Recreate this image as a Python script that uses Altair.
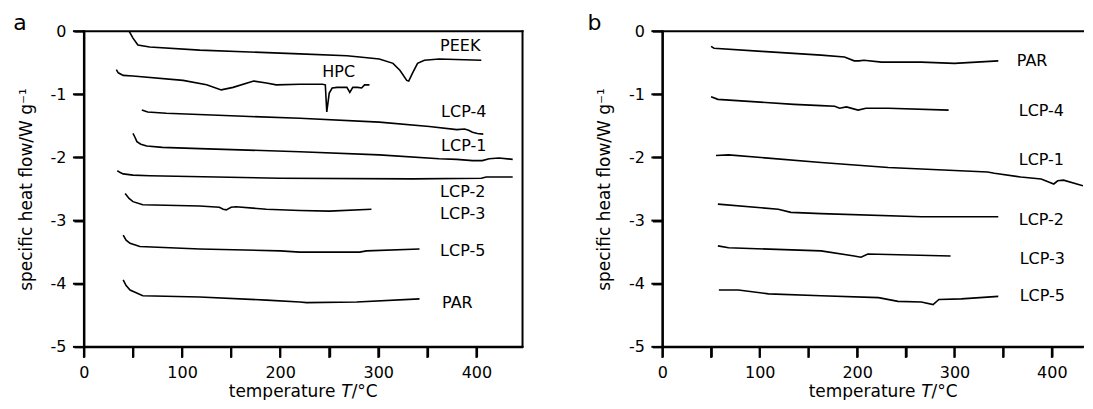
import altair as alt
import pandas as pd

# ---------------- panel a ----------------
a_peek_t = [46, 50, 55, 67, 118, 169, 220, 268, 281, 301, 315, 322, 329, 331, 335, 340, 347, 362, 405]
a_peek_q = [0.0, -0.11, -0.22, -0.25, -0.30, -0.33, -0.36, -0.39, -0.41, -0.44, -0.51, -0.62, -0.78, -0.79, -0.66, -0.51, -0.46, -0.44, -0.46]

a_hpc_t = [33, 35, 40, 50, 101, 125, 140, 152, 173, 186, 196, 220, 243, 246, 247.5, 250, 253, 258, 268, 271, 274, 279, 283, 286, 291]
a_hpc_q = [-0.61, -0.66, -0.70, -0.71, -0.78, -0.85, -0.93, -0.89, -0.79, -0.82, -0.85, -0.84, -0.84, -0.85, -1.28, -0.98, -0.90, -0.89, -0.89, -0.97, -0.89, -0.89, -0.90, -0.85, -0.85]

a_lcp4_t = [59, 65, 84, 150, 220, 301, 352, 380, 388, 392, 396, 401, 407]
a_lcp4_q = [-1.25, -1.28, -1.30, -1.34, -1.38, -1.44, -1.51, -1.56, -1.55, -1.57, -1.60, -1.62, -1.63]

a_lcp1_t = [50, 52, 54, 58, 64, 80, 118, 220, 301, 362, 380, 396, 406, 413, 423, 437]
a_lcp1_q = [-1.62, -1.68, -1.75, -1.79, -1.82, -1.84, -1.86, -1.91, -1.96, -2.02, -2.03, -2.05, -2.05, -2.02, -2.01, -2.03]

a_lcp2_t = [34, 37, 40, 50, 67, 200, 335, 405, 410, 437]
a_lcp2_q = [-2.21, -2.24, -2.26, -2.28, -2.29, -2.33, -2.34, -2.33, -2.31, -2.31]

a_lcp3_t = [42, 46, 50, 60, 118, 138, 142, 145, 150, 155, 186, 220, 250, 293]
a_lcp3_q = [-2.57, -2.65, -2.70, -2.75, -2.77, -2.79, -2.82, -2.83, -2.79, -2.78, -2.82, -2.84, -2.85, -2.82]

a_lcp5_t = [40, 43, 47, 57, 118, 200, 220, 281, 288, 342]
a_lcp5_q = [-3.23, -3.31, -3.36, -3.41, -3.45, -3.48, -3.50, -3.50, -3.48, -3.45]

a_par_t = [40, 43, 47, 60, 118, 186, 220, 227, 278, 342]
a_par_q = [-3.94, -4.03, -4.10, -4.19, -4.21, -4.26, -4.29, -4.30, -4.29, -4.24]

a_label_names = ["PEEK", "HPC", "LCP-4", "LCP-1", "LCP-2", "LCP-3", "LCP-5", "PAR"]
a_label_t = [363, 243, 364, 364, 363, 363, 363, 365]
a_label_q = [-0.24, -0.65, -1.28, -1.82, -2.55, -2.90, -3.48, -4.30]

# ---------------- panel b ----------------
b_par_t = [50, 53, 102, 163, 187, 197, 202, 207, 225, 266, 300, 345]
b_par_q = [-0.24, -0.27, -0.32, -0.38, -0.41, -0.47, -0.47, -0.46, -0.49, -0.49, -0.51, -0.47]

b_lcp4_t = [50, 57, 135, 163, 177, 182, 189, 201, 209, 232, 294]
b_lcp4_q = [-1.04, -1.08, -1.16, -1.18, -1.19, -1.22, -1.20, -1.25, -1.22, -1.22, -1.25]

b_lcp1_t = [55, 68, 163, 232, 334, 341, 368, 389, 402, 406, 412, 432]
b_lcp1_q = [-1.97, -1.96, -2.08, -2.16, -2.23, -2.25, -2.31, -2.34, -2.42, -2.37, -2.36, -2.45]

b_lcp2_t = [57, 119, 132, 163, 266, 300, 345]
b_lcp2_q = [-2.74, -2.82, -2.87, -2.89, -2.94, -2.94, -2.94]

b_lcp3_t = [57, 68, 163, 197, 204, 211, 296]
b_lcp3_q = [-3.40, -3.43, -3.48, -3.56, -3.58, -3.53, -3.56]

b_lcp5_t = [58, 78, 109, 163, 222, 242, 266, 278, 284, 307, 345]
b_lcp5_q = [-4.10, -4.10, -4.16, -4.19, -4.22, -4.28, -4.29, -4.33, -4.25, -4.24, -4.20]

b_label_names = ["PAR", "LCP-4", "LCP-1", "LCP-2", "LCP-3", "LCP-5"]
b_label_t = [364, 366, 366, 366, 367, 367]
b_label_q = [-0.47, -1.27, -2.04, -2.99, -3.61, -4.19]

x_ticks = [0, 50, 100, 150, 200, 250, 300, 350, 400]
y_ticks = [-5, -4, -3, -2, -1, 0]

FONT = "DejaVu Sans"
H = 316


def long_df(curves):
    rows = []
    for name, ts, qs in curves:
        for i, (t, q) in enumerate(zip(ts, qs)):
            rows.append({"series": name, "t": t, "q": q, "i": i})
    return pd.DataFrame(rows)


AX = dict(domain=True, ticks=True, grid=False, domainColor="black", domainWidth=2,
          tickColor="black", tickWidth=2, tickSize=10, labelPadding=8,
          labelFont=FONT, labelFontSize=16, labelColor="black",
          titleFont=FONT, titleFontSize=17, titleFontWeight="normal", titleColor="black",
          labelFlush=False, labelOverlap=False)


def panel(curves, names, lt, lq, xmax, width, letter, letter_x, right_spine, title_cx):
    df = long_df(curves)
    lab = pd.DataFrame({"name": names, "t": lt, "q": lq})
    xs = alt.Scale(domain=[0, xmax], nice=False, zero=False)
    ys = alt.Scale(domain=[-5, 0], nice=False, zero=False)
    x = alt.X("t:Q", scale=xs, axis=alt.Axis(
        values=x_ticks, labelExpr="datum.value % 100 == 0 ? datum.label : ''",
        title=None, **AX))
    y = alt.Y("q:Q", scale=ys, axis=alt.Axis(
        values=y_ticks, labelExpr="datum.value == 0 ? '0' : '-' + abs(datum.value)",
        title="specific heat flow/W g⁻¹", titlePadding=15, **AX))
    rule = dict(color="black", strokeWidth=2)
    layers = []
    # axis lines and ticks
    layers.append(alt.Chart(pd.DataFrame({"t": [0.0]})).mark_rule(strokeCap="square", **rule).encode(x=x))
    layers.append(alt.Chart(pd.DataFrame({"q": [-5.0]})).mark_rule(strokeCap="square", **rule).encode(y=y))
    layers.append(alt.Chart(pd.DataFrame({"q": [0.0]})).mark_rule(strokeCap="square", **rule).encode(y=y))
    if right_spine:
        layers.append(alt.Chart(pd.DataFrame({"t": [float(xmax)]})).mark_rule(strokeCap="square", **rule).encode(x=x))
    layers.append(alt.Chart(pd.DataFrame({"t": x_ticks})).mark_rule(**rule).encode(
        x=x, y=alt.value(H), y2=alt.value(H + 11)))
    layers.append(alt.Chart(pd.DataFrame({"q": y_ticks})).mark_rule(**rule).encode(
        y=y, x=alt.value(-11), x2=alt.value(0)))
    # curves
    layers.append(alt.Chart(df).mark_line(color="black", strokeWidth=1.6, clip=True).encode(
        x=x, y=y, detail="series:N", order="i:Q"))
    layers.append(alt.Chart(lab).mark_text(align="left", baseline="middle", fontSize=16,
                                           font=FONT, color="black").encode(
        x=x, y=y, text="name:N"))
    # panel letter
    layers.append(alt.Chart(pd.DataFrame({"s": [letter]})).mark_text(
        fontSize=22, font=FONT, align="center", baseline="alphabetic", color="black").encode(
        x=alt.value(letter_x), y=alt.value(-1), text="s:N"))
    # x title: temperature T/°C with italic T
    fs = 17
    w1, w2, w3 = 6.625 * fs, 0.611 * fs, 1.535 * fs
    x0 = title_cx - (w1 + w2 + w3) / 2
    tb = H + 50
    parts = [("temperature ", x0, "normal"), ("T", x0 + w1, "italic"), ("/°C", x0 + w1 + w2, "normal")]
    for txt, px, style in parts:
        layers.append(alt.Chart(pd.DataFrame({"s": [txt]})).mark_text(
            fontSize=fs, font=FONT, fontStyle=style, align="left", baseline="alphabetic",
            color="black").encode(x=alt.value(px), y=alt.value(tb), text="s:N"))
    return alt.layer(*layers).properties(width=width, height=H)


left = panel([
    ("PEEK", a_peek_t, a_peek_q), ("HPC", a_hpc_t, a_hpc_q),
    ("LCP-4", a_lcp4_t, a_lcp4_q), ("LCP-1", a_lcp1_t, a_lcp1_q),
    ("LCP-2", a_lcp2_t, a_lcp2_q), ("LCP-3", a_lcp3_t, a_lcp3_q),
    ("LCP-5", a_lcp5_t, a_lcp5_q), ("PAR", a_par_t, a_par_q)],
    a_label_names, a_label_t, a_label_q, 447, 439, "a", -64, True, 219.5)

right = panel([
    ("PAR", b_par_t, b_par_q), ("LCP-4", b_lcp4_t, b_lcp4_q),
    ("LCP-1", b_lcp1_t, b_lcp1_q), ("LCP-2", b_lcp2_t, b_lcp2_q),
    ("LCP-3", b_lcp3_t, b_lcp3_q), ("LCP-5", b_lcp5_t, b_lcp5_q)],
    b_label_names, b_label_t, b_label_q, 432, 421, "b", -68, False, 221)

chart = alt.hconcat(left, right, spacing=63).configure_view(strokeWidth=0).properties(
    padding={"left": 5, "top": 4, "right": 0, "bottom": 0})

chart.save("out.html", embed_options={"renderer": "svg", "actions": False})
